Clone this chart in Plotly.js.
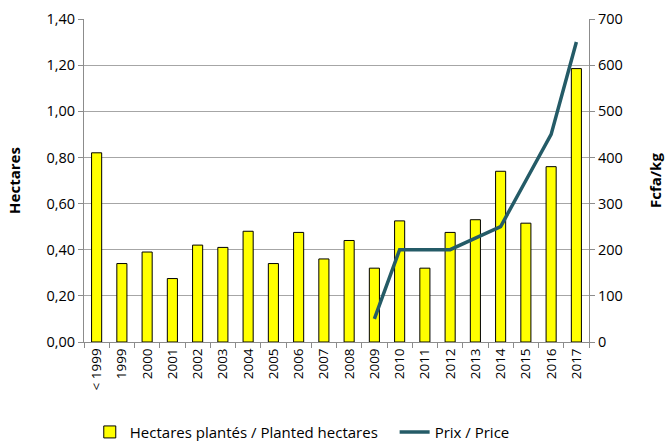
<!DOCTYPE html>
<html><head><meta charset="utf-8">
<script src="https://cdn.plot.ly/plotly-3.0.1.min.js"></script>
<style>body{margin:0;background:#fff}#c{width:670px;height:441px}</style>
</head><body><div id="c"></div>
<script>
const years = ["< 1999","1999","2000","2001","2002","2003","2004","2005","2006","2007","2008","2009","2010","2011","2012","2013","2014","2015","2016","2017"];
const hectares = [0.82,0.34,0.39,0.275,0.42,0.41,0.48,0.34,0.475,0.36,0.44,0.32,0.525,0.32,0.475,0.53,0.74,0.515,0.76,1.185];
const priceYears = ["2009","2010","2011","2012","2013","2014","2015","2016","2017"];
const price = [50,200,200,200,225,250,350,450,650];

const font = {family:"Open Sans, Liberation Sans, sans-serif", size:13, color:"#000"};
const legBase = {orientation:"h", xref:"container", yref:"container", xanchor:"left", y:0.02, yanchor:"middle", font:{size:15}};
Plotly.newPlot("c",[
  {type:"bar", x:years, y:hectares, name:"Hectares plantés / Planted hectares", legend:"legend",
   marker:{color:"#ffff00", line:{color:"#000", width:1}}, width:0.4},
  {type:"scatter", mode:"lines", x:priceYears, y:price, yaxis:"y2", name:"Prix / Price", legend:"legend2",
   line:{color:"#245b67", width:3.5}}
],{
  width:670, height:441,
  margin:{l:84,r:81,t:19,b:99},
  font:font,
  separators:", ",
  showlegend:true,
  legend:Object.assign({}, legBase, {x:0.134}),
  legend2:Object.assign({}, legBase, {x:0.589}),
  xaxis:{type:"category", tickangle:-90, showline:true, linecolor:"#8c8c8c", ticks:"outside", ticklen:5, tickcolor:"#8c8c8c", tickson:"boundaries", showgrid:false, tickfont:{size:13.5}},
  yaxis:{range:[0,1.4], dtick:0.2, tickformat:".2f", title:{text:"<b>Hectares</b>", font:{size:15}, standoff:22}, showline:true, linecolor:"#8c8c8c", ticks:"outside", ticklen:5, tickcolor:"#8c8c8c", gridcolor:"#a6a6a6", zeroline:false, tickfont:{size:14.5}},
  yaxis2:{range:[0,700], dtick:100, overlaying:"y", side:"right", title:{text:"<b>Fcfa/kg</b>", font:{size:15}, standoff:28}, showline:true, linecolor:"#8c8c8c", ticks:"outside", ticklen:5, tickcolor:"#8c8c8c", showgrid:false, zeroline:false, tickfont:{size:14.5}},
  plot_bgcolor:"#fff", paper_bgcolor:"#fff"
},{displayModeBar:false});
</script></body></html>
